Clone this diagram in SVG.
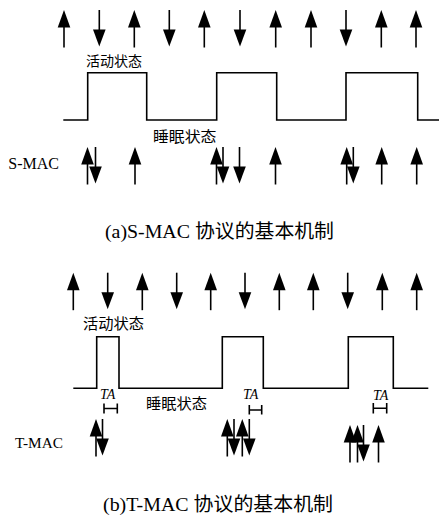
<svg xmlns="http://www.w3.org/2000/svg" xmlns:xlink="http://www.w3.org/1999/xlink" width="439" height="523" viewBox="0 0 439 523">
<style>
.w{fill:none;stroke:#000;stroke-width:1.6}
.ln{stroke:#000;stroke-width:1.6}
.cn{font-family:"Noto Sans CJK SC","Noto Sans CJK JP",sans-serif;fill:#000}
.lat{font-family:"Liberation Serif","Noto Sans CJK SC",serif;fill:#000}
.ta{font-family:"Liberation Serif",serif;font-style:italic;font-size:14px;fill:#000}
.cap{font-family:"Liberation Serif","Noto Sans CJK SC",serif;font-size:19px;fill:#000}
</style>
<defs>
<g id="up"><line class="ln" x1="0" y1="37.5" x2="0" y2="15"/><polygon points="0,0 -6.3,17.5 6.3,17.5" fill="#000"/></g>
<g id="dn"><line class="ln" x1="0" y1="0" x2="0" y2="22"/><polygon points="0,36.5 -6.3,19.5 6.3,19.5" fill="#000"/></g>
</defs>
<g id="smac">
<g id="smac-top-arrows">
<use href="#up" x="64" y="10"/><use href="#dn" x="99.3" y="10"/><use href="#up" x="134.3" y="10"/><use href="#dn" x="169.3" y="10"/><use href="#up" x="204.3" y="10"/><use href="#dn" x="240" y="10"/><use href="#up" x="275.7" y="10"/><use href="#up" x="311" y="10"/><use href="#dn" x="346" y="10"/><use href="#up" x="381.3" y="10"/><use href="#up" x="416" y="10"/>
</g>
<text class="cn" x="86" y="65.5" font-size="14" textLength="56" lengthAdjust="spacingAndGlyphs">活动状态</text>
<path id="smac-wave" class="w" d="M63.3,120 H87.7 V72.7 H146.7 V120 H216.7 V72.7 H276.7 V120 H346 V72.7 H417.7 V120 H439"/>
<text class="cn" x="153" y="142" font-size="15" textLength="63.5" lengthAdjust="spacingAndGlyphs">睡眠状态</text>
<text class="lat" x="8.3" y="168.5" font-size="16" textLength="50.7" lengthAdjust="spacingAndGlyphs">S-MAC</text>
<g id="smac-arrows">
<use href="#up" x="87.5" y="147"/><use href="#dn" x="95.5" y="147"/><use href="#up" x="135" y="147"/>
<use href="#up" x="216.5" y="147"/><use href="#dn" x="223" y="147"/><use href="#dn" x="239.5" y="147"/><use href="#up" x="275.5" y="147"/>
<use href="#up" x="346.7" y="147"/><use href="#dn" x="353.3" y="147"/><use href="#up" x="381.7" y="147"/><use href="#up" x="416.7" y="147"/>
</g>
<text class="cap" x="105" y="238" textLength="229" lengthAdjust="spacingAndGlyphs">(a)S-MAC 协议的基本机制</text>
</g>
<g id="tmac">
<g id="tmac-top-arrows">
<use href="#up" x="73.3" y="272.7"/><use href="#dn" x="107.7" y="272.7"/><use href="#up" x="142.3" y="272.7"/><use href="#dn" x="176.7" y="272.7"/><use href="#up" x="210.7" y="272.7"/><use href="#dn" x="245" y="272.7"/><use href="#up" x="279.3" y="272.7"/><use href="#up" x="313.3" y="272.7"/><use href="#dn" x="347.7" y="272.7"/><use href="#up" x="382.3" y="272.7"/><use href="#up" x="416.7" y="272.7"/>
</g>
<text class="cn" x="83" y="329" font-size="15" textLength="61" lengthAdjust="spacingAndGlyphs">活动状态</text>
<path id="tmac-wave" class="w" d="M73.3,388.3 H96.7 V336.7 H119 V388.3 H222.3 V336.7 H263.3 V388.3 H348.3 V336.7 H393.3 V388.3 H428.3"/>
<text class="cn" x="146" y="409" font-size="15" textLength="61" lengthAdjust="spacingAndGlyphs">睡眠状态</text>
<g id="ta-labels">
<text class="ta" x="100" y="399">TA</text>
<text class="ta" x="243" y="399">TA</text>
<text class="ta" x="373" y="400">TA</text>
<path class="ln" fill="none" stroke-width="1.3" d="M104,403.5 V413.5 M104,408.5 H117.3 M117.3,403.5 V413.5 M249.3,405 V414.5 M249.3,410 H261.7 M261.7,405 V414.5 M373.3,403 V413.5 M373.3,408.3 H386.7 M386.7,403 V413.5"/>
</g>
<text class="lat" x="15" y="448" font-size="15" textLength="48" lengthAdjust="spacingAndGlyphs">T-MAC</text>
<g id="tmac-arrows">
<use href="#up" x="96" y="419"/><use href="#dn" x="102.5" y="419"/>
<use href="#up" x="227.3" y="419"/><use href="#dn" x="234" y="419"/><use href="#up" x="242.3" y="419"/><use href="#dn" x="249.3" y="419"/>
<use href="#up" x="350" y="425"/><use href="#up" x="357.5" y="425"/><use href="#dn" x="363.5" y="425"/><use href="#up" x="378.5" y="425"/>
</g>
<text class="cap" x="103" y="511" textLength="230" lengthAdjust="spacingAndGlyphs">(b)T-MAC 协议的基本机制</text>
</g>
</svg>
